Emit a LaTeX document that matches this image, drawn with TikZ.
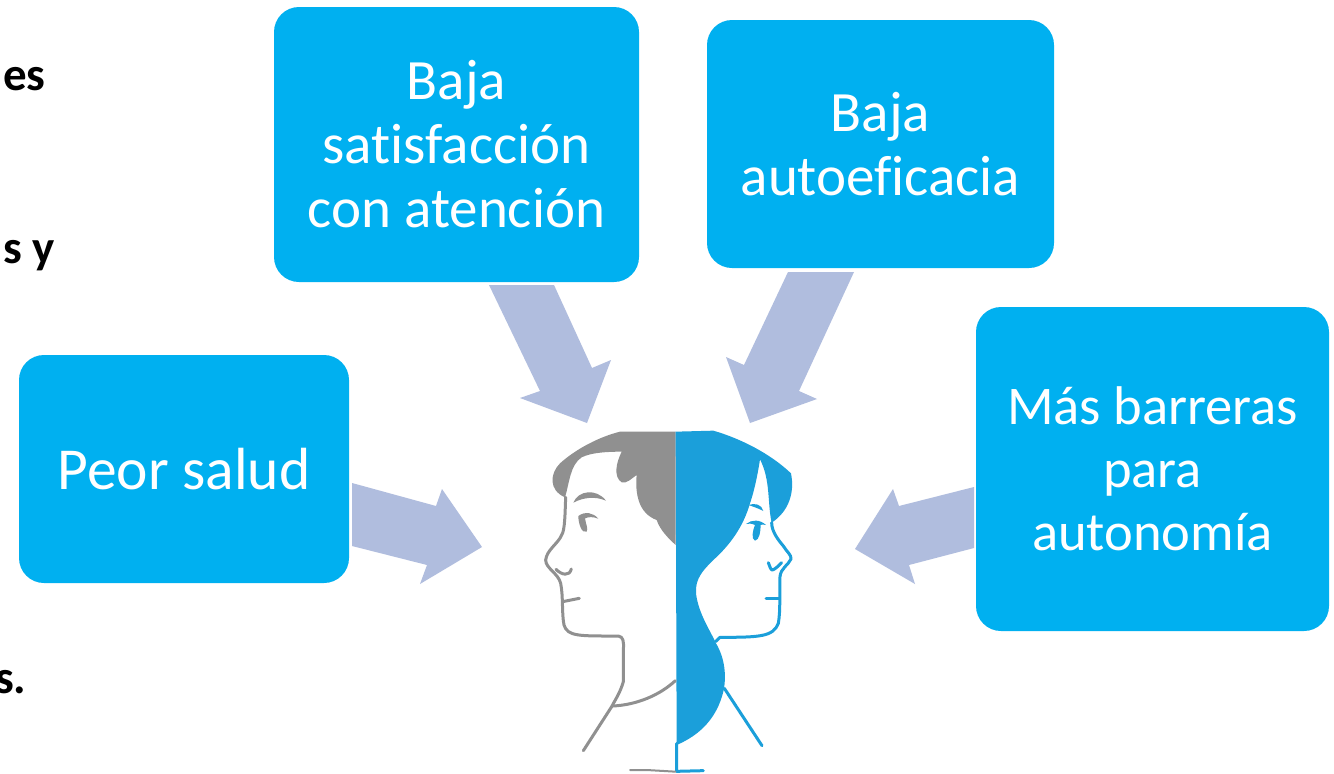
\documentclass[tikz,border=0pt]{standalone}
\usepackage{fontspec}
\setmainfont{Carlito}[Ligatures=CommonOff]
\definecolor{boxblue}{HTML}{00B0F0}
\definecolor{arrowblue}{HTML}{B0BDDE}
\definecolor{hairgray}{HTML}{909090}
\definecolor{lineblue}{HTML}{1B9FDA}
\tikzset{
  topic/.style={fill=boxblue,rounded corners=25pt,text=white,align=center,inner sep=0pt,
    font=\fontsize{57}{64}\selectfont},
  blockarrow/.style={fill=arrowblue,draw=none},
  sidenote/.style={font=\fontsize{47}{50}\selectfont\bfseries,inner sep=0pt,text=black,anchor=base west},
  grayline/.style={draw=hairgray,line width=3pt,line cap=round,line join=round,fill=none},
  blueline/.style={draw=lineblue,line width=3pt,line cap=round,line join=round,fill=none}
}
\begin{document}
\begin{tikzpicture}[x=1pt,y=-1pt]
\useasboundingbox (0,0) rectangle (1334,774);
\fill[white] (0,0) rectangle (1334,774);

% Cut-off words at the left edge
\node[sidenote] (noteA) at (3,90) {es};
\node[sidenote] (noteB) at (3,263) {s y};
\node[sidenote] (noteC) at (-5,693) {s.};

% Topic boxes
\node[topic,minimum width=365pt,minimum height=275pt] (satisf) at (456.5,144.5) {Baja\\satisfacción\\con atención};
\node[topic,minimum width=347pt,minimum height=248pt] (autoef) at (880.5,144) {Baja\\autoeficacia};
\node[topic,minimum width=330pt,minimum height=228pt,font=\fontsize{59.5}{64}\selectfont] (salud) at (184,469) {Peor salud};
\node[topic,minimum width=353pt,minimum height=324pt,font=\fontsize{54.5}{63}\selectfont] (barreras) at (1152.5,469) {Más barreras\\para\\autonomía};

% Block arrows pointing at the head
\fill[blockarrow] (489,285) -- (554,285) -- (592,368) -- (611,360) -- (587,423) -- (520,398) -- (540,391) -- cycle;
\fill[blockarrow] (788,272) -- (854,272) -- (799,391) -- (817,399) -- (750,423) -- (726,357) -- (744,365) -- cycle;
\fill[blockarrow] (352,483) -- (352,546) -- (427,565) -- (420,584) -- (482,547) -- (442,489) -- (436,506) -- cycle;
\fill[blockarrow] (974,487) -- (974,548) -- (909,565) -- (915,584) -- (855,549) -- (893,489) -- (899,506) -- cycle;

% Two-sided head
\begin{scope}[shift={(530,410)},x=0.33333pt,y=-0.33333pt]
  % man's hair
  \fill[hairgray] (437,65) -- (270,65) .. controls (210,80) and (140,115) .. (90,160)
    .. controls (60,190) and (55,240) .. (105,262)
    .. controls (118,220) and (120,165) .. (155,142)
    .. controls (185,127) and (235,125) .. (275,125)
    .. controls (258,160) and (250,200) .. (275,217)
    .. controls (290,222) and (305,205) .. (320,195)
    .. controls (315,250) and (325,310) .. (380,330)
    .. controls (390,360) and (415,385) .. (437,405) -- cycle;
  % woman's hair and back of the head
  \fill[lineblue] (437,65) -- (550,62) .. controls (630,85) and (720,130) .. (783,190)
    .. controls (795,250) and (775,305) .. (725,338)
    .. controls (712,280) and (722,210) .. (690,148)
    .. controls (682,200) and (672,245) .. (660,280)
    .. controls (640,350) and (600,405) .. (550,450)
    .. controls (520,480) and (495,505) .. (498,550)
    .. controls (505,610) and (540,660) .. (558,700)
    .. controls (585,745) and (590,800) .. (580,845)
    .. controls (560,925) and (510,975) .. (440,1005) -- cycle;
  \draw[blueline] (440,1000) -- (440,1084) -- (520,1082);
  \draw[grayline,line width=2pt] (300,1080) -- (350,1080) -- (436,1085);
  % man's profile
  \draw[grayline] (107,262) .. controls (105,310) and (105,360) .. (95,375)
    .. controls (85,400) and (50,420) .. (47,450)
    .. controls (47,475) and (85,490) .. (92,520)
    .. controls (100,560) and (95,610) .. (102,645)
    .. controls (112,680) and (150,678) .. (265,678)
    .. controls (280,680) and (282,695) .. (280,720)
    -- (280,815) .. controls (270,850) and (255,870) .. (245,890)
    -- (160,1022);
  \draw[grayline] (248,888) .. controls (320,885) and (390,855) .. (436,812);
  \draw[grayline] (78,478) .. controls (95,495) and (118,500) .. (124,477);
  \draw[grayline] (98,575) -- (148,565);
  \fill[hairgray] (130,278) .. controls (145,240) and (200,235) .. (228,272)
    .. controls (195,258) and (160,262) .. (130,278) -- cycle;
  \fill[hairgray] (145,318) .. controls (165,303) and (190,308) .. (205,326)
    .. controls (190,320) and (175,320) .. (165,325)
    .. controls (168,345) and (175,355) .. (170,365)
    .. controls (155,372) and (145,340) .. (145,318) -- cycle;
  % woman's profile
  \draw[blueline] (725,338) .. controls (725,365) and (745,390) .. (760,408)
    .. controls (770,425) and (785,435) .. (783,447)
    .. controls (775,465) and (752,475) .. (750,500)
    .. controls (748,550) and (752,600) .. (745,640)
    .. controls (730,680) and (690,682) .. (570,682)
    -- (557,695);
  \draw[blueline] (583,835) -- (696,1007);
  \draw[blueline] (715,458) .. controls (720,470) and (722,480) .. (727,480)
    .. controls (735,478) and (745,468) .. (755,458);
  \draw[blueline] (708,565) -- (748,565);
  \fill[lineblue] (655,285) .. controls (675,278) and (695,283) .. (700,303)
    .. controls (685,295) and (670,290) .. (655,285) -- cycle;
  \fill[lineblue] (648,342) .. controls (665,328) and (690,328) .. (708,345)
    .. controls (700,343) and (695,343) .. (692,345)
    .. controls (692,365) and (688,390) .. (675,392)
    .. controls (663,388) and (668,360) .. (675,345)
    .. controls (665,340) and (655,340) .. (648,342) -- cycle;
\end{scope}
\end{tikzpicture}
\end{document}
